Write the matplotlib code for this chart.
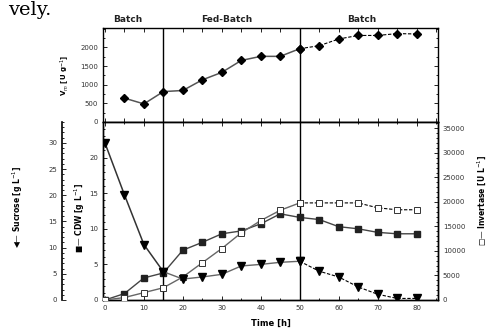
import matplotlib.pyplot as plt
from matplotlib.ticker import MultipleLocator, FixedLocator

# ----------------------------
# Data
# ----------------------------
time = [0, 5, 10, 15, 20, 25, 30, 35, 40, 45, 50, 55, 60, 65, 70, 75, 80]
sucrose = [30.0, 20.1, 10.6, 5.4, 4.0, 4.4, 4.9, 6.5, 6.8, 7.2, 7.4, 5.5, 4.4, 2.5, 1.1, 0.3, 0.3]
cdw = [0.0, 0.9, 3.1, 3.8, 7.0, 8.1, 9.3, 9.7, 10.7, 12.1, 11.6, 11.3, 10.3, 10.0, 9.5, 9.3, 9.3]
invertase = [0, 500, 1500, 2500, 4700, 7600, 10500, 13700, 16200, 18300, 19800, 19800, 19800,
             19800, 18800, 18400, 18400]

vm_time = [5, 10, 15, 20, 25, 30, 35, 40, 45, 50, 55, 60, 65, 70, 75, 80]
vm = [640, 485, 815, 845, 1130, 1330, 1650, 1760, 1760, 1965, 2045, 2225, 2320, 2320, 2370, 2360]

vm_ticks = [0, 500, 1000, 1500, 2000]
cdw_ticks = [0, 5, 10, 15, 20]
phase_bounds = [15, 50]
phase_names = ["Batch", "Fed-Batch", "Batch"]
phase_x = [0.262, 0.465, 0.742]

W, H = 488, 329
fig = plt.figure(figsize=(W / 100, H / 100), dpi=100)
plt.rcParams["font.family"] = "DejaVu Sans"

left, right = 103 / W, 438 / W
ax_top = fig.add_axes([left, 1 - 122 / H, right - left, (122 - 28) / H])
ax = fig.add_axes([left, 1 - 300 / H, right - left, (300 - 122) / H])
ax_inv = ax.twinx()
ax_suc = ax.twinx()

tick_kw = dict(direction="in", labelsize=5, colors="black", labelcolor="#333333", length=3, width=0.6)

# ----------------------------
# Top panel: Vm
# ----------------------------
split = vm_time.index(50)
ax_top.plot(vm_time[:split + 1], vm[:split + 1], color="#555555", lw=1.1,
            marker="D", ms=4, mfc="black", mec="black")
ax_top.plot(vm_time[split:], vm[split:], color="black", lw=0.8, ls=(0, (3, 1.5)),
            marker="D", ms=4, mfc="black", mec="black")
ax_top.set_xlim(-0.5, 85.5)
ax_top.set_ylim(0, 2520)
ax_top.yaxis.set_major_locator(FixedLocator(vm_ticks))
ax_top.yaxis.set_minor_locator(MultipleLocator(250))
ax_top.xaxis.set_major_locator(MultipleLocator(5))
ax_top.tick_params(axis="both", which="both", top=True, right=True, **tick_kw)
ax_top.tick_params(axis="x", labelbottom=False)
ax_top.tick_params(which="minor", length=1.5)
ax_top.set_ylabel("V$_m$ [U g$^{-1}$]", fontsize=5, fontweight="bold", labelpad=6)

for name, xpos in zip(phase_names, phase_x):
    fig.text(xpos, 1 - 19 / H, name, fontsize=6.5, fontweight="bold", ha="center", va="center",
             color="#222222")

# ----------------------------
# Bottom panel
# ----------------------------
i50 = time.index(50)
ax.plot(time, cdw, color="#444444", lw=1.0, marker="s", ms=4, mfc="#222222", mec="#222222",
        zorder=3)
ax_inv.plot(time[:i50 + 1], invertase[:i50 + 1], color="#666666", lw=1.0, marker="s", ms=4.5,
            mfc="white", mec="#333333", mew=0.7, zorder=3)
ax_inv.plot(time[i50:], invertase[i50:], color="black", lw=0.8, ls=(0, (3, 1.5)), marker="s",
            ms=4.5, mfc="white", mec="#333333", mew=0.7, zorder=3)
i15 = time.index(15)
ax_suc.plot(time[:i15 + 1], sucrose[:i15 + 1], color="#333333", lw=1.1, marker="v", ms=5.5,
            mfc="black", mec="black", zorder=3)
ax_suc.plot(time[i15:i50 + 1], sucrose[i15:i50 + 1], color="#666666", lw=1.0, marker="v", ms=5.5,
            mfc="black", mec="black", zorder=3)
ax_suc.plot(time[i50:], sucrose[i50:], color="black", lw=0.8, ls=(0, (3, 1.5)), marker="v",
            ms=5.5, mfc="black", mec="black", zorder=3)

ax.set_xlim(-0.5, 85.5)
ax.set_ylim(0, 25)
ax_inv.set_ylim(0, 36300)
ax_suc.set_ylim(0, 34)

ax.xaxis.set_major_locator(MultipleLocator(10))
ax.xaxis.set_minor_locator(MultipleLocator(5))
ax.yaxis.set_major_locator(FixedLocator(cdw_ticks))
ax.yaxis.set_minor_locator(MultipleLocator(1))
ax.tick_params(axis="both", which="both", top=True, **tick_kw)
ax.tick_params(which="minor", length=1.5)

ax_inv.yaxis.set_major_locator(MultipleLocator(5000))
ax_inv.yaxis.set_minor_locator(MultipleLocator(1000))
ax_inv.tick_params(axis="y", which="both", **tick_kw)
ax_inv.tick_params(which="minor", length=1.5)

ax_suc.spines["right"].set_visible(False)
ax_suc.spines["top"].set_visible(False)
ax_suc.spines["bottom"].set_visible(False)
ax_suc.spines["left"].set_visible(True)
ax_suc.spines["left"].set_position(("axes", (62 - 103) / (438 - 103)))
ax_suc.spines["left"].set_linewidth(1.2)
ax_suc.yaxis.set_ticks_position("left")
ax_suc.yaxis.set_label_position("left")
ax_suc.yaxis.set_major_locator(MultipleLocator(5))
ax_suc.yaxis.set_minor_locator(MultipleLocator(1))
ax_suc.tick_params(axis="y", which="both", **tick_kw)
ax_suc.tick_params(which="minor", length=1.5)

for a in (ax_top, ax, ax_inv):
    for s in a.spines.values():
        s.set_linewidth(1.0)

ax.set_xlabel("Time [h]", fontsize=6, fontweight="bold", labelpad=6)

# phase boundaries through both panels
for xb in phase_bounds:
    ax.axvline(xb, color="black", lw=1.0, zorder=2)
    ax_top.axvline(xb, color="black", lw=1.0, zorder=2)

# axis labels with legend symbols
fig.text(18 / W, 1 - 207 / H, "\u25c0\u2014 Sucrose [g L$^{-1}$]", rotation=90, fontsize=5.5,
         fontweight="bold", ha="center", va="center")
fig.text(80 / W, 1 - 218 / H, "\u25a0\u2014 CDW [g L$^{-1}$]", rotation=90, fontsize=5.5,
         fontweight="bold", ha="center", va="center")
fig.text(482 / W, 1 - 200 / H, "\u25a1\u2014 Invertase [U L$^{-1}$]", rotation=90, fontsize=5.5,
         fontweight="bold", ha="center", va="center")

# cut-off text from the page above the figure
fig.text(8 / W, 1 - 10 / H, "vely.", fontsize=14, family="DejaVu Serif", ha="left", va="center")

plt.savefig("out.png", dpi=100)
plt.close()
